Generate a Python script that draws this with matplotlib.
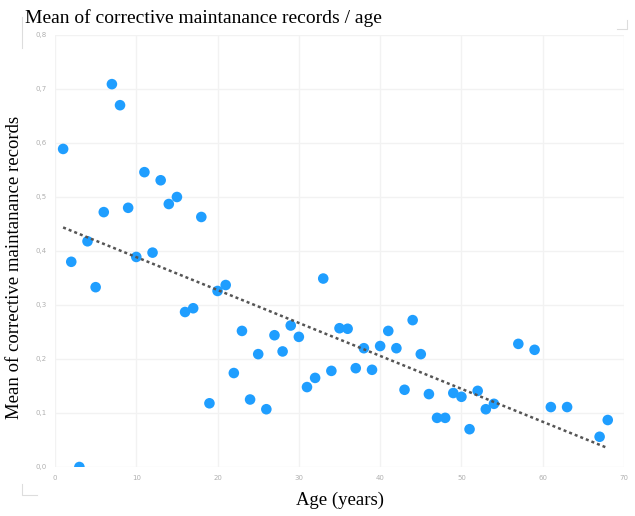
import numpy as np
import matplotlib.pyplot as plt
from matplotlib.lines import Line2D
from matplotlib.ticker import FuncFormatter

# Data
age = [1, 2, 3, 4, 5, 6, 7, 8, 9, 10, 11, 12, 13, 14, 15, 16, 17, 18, 19, 20,
       21, 22, 23, 24, 25, 26, 27, 28, 29, 30, 31, 32, 33, 34, 35, 36, 37, 38,
       39, 40, 41, 42, 43, 44, 45, 46, 47, 48, 49, 50, 51, 52, 53, 54, 57, 59,
       61, 63, 67, 68]
mean_records = [0.589, 0.380, 0.000, 0.418, 0.333, 0.472, 0.709, 0.670, 0.480, 0.389,
                0.546, 0.397, 0.531, 0.487, 0.500, 0.287, 0.294, 0.463, 0.118, 0.326,
                0.337, 0.174, 0.252, 0.125, 0.209, 0.107, 0.244, 0.214, 0.262, 0.241,
                0.148, 0.165, 0.349, 0.178, 0.257, 0.256, 0.183, 0.220, 0.180, 0.224,
                0.252, 0.220, 0.143, 0.272, 0.209, 0.135, 0.091, 0.091, 0.137, 0.130,
                0.070, 0.141, 0.107, 0.117, 0.228, 0.217, 0.111, 0.111, 0.056, 0.087]

x_ticks = [0, 10, 20, 30, 40, 50, 60, 70]
y_ticks = [0.0, 0.1, 0.2, 0.3, 0.4, 0.5, 0.6, 0.7, 0.8]

W, H = 635, 516
fig = plt.figure(figsize=(W / 100, H / 100), dpi=100)
ax = fig.add_axes([55 / W, 1 - 467 / H, 569 / W, 432 / H])

ax.scatter(age, mean_records, s=58, color='#1f9eff', edgecolors='none', zorder=3)

# linear trend line
coef = np.polyfit(age, mean_records, 1)
xs = np.array([min(age), max(age)])
ax.plot(xs, np.polyval(coef, xs), color='#555555', lw=1.8, ls=(0, (1.2, 1.2)), zorder=4)

ax.set_xlim(0, 70)
ax.set_ylim(0, 0.8)
ax.set_xticks(x_ticks)
ax.set_yticks(y_ticks)
ax.yaxis.set_major_formatter(FuncFormatter(lambda v, p: f'{v:.1f}'.replace('.', ',')))
ax.tick_params(length=0, labelsize=5, labelcolor='#b0b0b0', pad=6)
for s in ax.spines.values():
    s.set_visible(False)
ax.grid(True, color='#f2f2f2', lw=1)
ax.set_axisbelow(True)

serif = ['Liberation Serif', 'DejaVu Serif']
fig.text(25 / W, 1 - 18 / H, 'Mean of corrective maintanance records / age',
         family=serif, fontsize=14, va='center', ha='left')
fig.text(15 / W, 1 - 267 / H, 'Mean of corrective maintanance records',
         family=serif, fontsize=13.5, rotation=90, va='center', ha='center')
fig.text(340 / W, 1 - 500 / H, 'Age (years)', family=serif, fontsize=13.5,
         va='center', ha='center')

# faint frame corners
c = '#dddddd'
fig.add_artist(Line2D([22 / W, 22 / W], [1 - 17 / H, 1 - 48 / H], color=c, lw=0.8))
fig.add_artist(Line2D([22 / W, 22 / W, 37 / W], [1 - 484 / H, 1 - 495 / H, 1 - 495 / H], color=c, lw=0.8))
fig.add_artist(Line2D([617 / W, 627 / W, 627 / W], [1 - 29 / H, 1 - 29 / H, 1 - 20 / H], color=c, lw=0.8))

fig.savefig('out.png', dpi=100)
